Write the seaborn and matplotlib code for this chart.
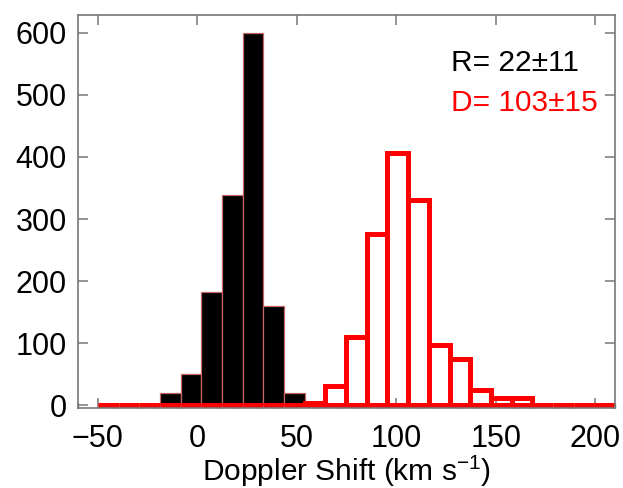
import numpy as np
import pandas as pd
import matplotlib
matplotlib.use("Agg")
import matplotlib.pyplot as plt
from matplotlib.ticker import MultipleLocator
import seaborn as sns

# ---- data ----
bin_edges = [round(-50 + 10.4 * i, 1) for i in range(26)]   # 25 bins, width 10.4 km/s
r_counts = [0, 0, 0, 19, 50, 183, 338, 600, 160, 20,
            0, 0, 0, 0, 0, 0, 0, 0, 0, 0, 0, 0, 0, 0, 0]
d_counts = [0, 0, 0, 0, 0, 0, 0, 0, 0, 0,
            4, 31, 110, 276, 407, 330, 97, 75, 24, 11, 11, 0, 0, 0, 0]
x_ticks = [-50, 0, 50, 100, 150, 200]
y_ticks = [0, 100, 200, 300, 400, 500, 600]
r_label = "R= 22±11"
d_label = "D= 103±15"
x_label = r"Doppler Shift (km s$^{-1}$)"

centers = [(a + b) / 2 for a, b in zip(bin_edges[:-1], bin_edges[1:])]
df = pd.DataFrame({"shift": centers, "r": r_counts, "d": d_counts})

sns.set_style("ticks")
plt.rcParams['font.family'] = ['Liberation Sans', 'DejaVu Sans']
plt.rcParams['mathtext.fontset'] = 'custom'
plt.rcParams['mathtext.rm'] = 'Liberation Sans'
plt.rcParams['mathtext.default'] = 'regular'
plt.rcParams['text.color'] = 'black'
plt.rcParams['axes.labelcolor'] = 'black'

fig = plt.figure(figsize=(6.23, 4.88), dpi=100)
ax = fig.add_axes([78/623, 1-407.5/488, (615-78)/623, (407.5-15)/488])

sns.histplot(data=df, x="shift", weights="r", bins=bin_edges, color='black',
             alpha=1, edgecolor='#c86464', linewidth=0.9, ax=ax)
sns.histplot(data=df, x="shift", weights="d", bins=bin_edges, fill=False,
             color='#ff0000', linewidth=3.6, ax=ax)

ax.set_xlim(-60, 210)
ax.set_ylim(-4, 629)
ax.set_xticks(x_ticks)
ax.set_yticks(y_ticks)
ax.xaxis.set_minor_locator(MultipleLocator(10))
ax.set_ylabel("")
ax.set_xlabel(x_label, fontsize=21.5, labelpad=0, color='black')

spine_c = '#777777'
for s in ax.spines.values():
    s.set_color(spine_c)
    s.set_linewidth(1.2)
    s.set_visible(True)
ax.tick_params(axis='both', which='major', direction='in', length=7,
               width=1.1, color=spine_c, labelsize=22, labelcolor='black')
ax.tick_params(axis='x', which='major', top=True, pad=12)
ax.tick_params(axis='y', which='major', right=True, pad=8)
ax.tick_params(axis='x', which='minor', direction='in', length=3.5,
               width=1.0, color=spine_c, top=False, bottom=True)

ax.text(0.6946, 0.858, r_label, transform=ax.transAxes, fontsize=21.5,
        color='black', va='baseline', ha='left')
ax.text(0.6946, 0.756, d_label, transform=ax.transAxes, fontsize=21.5,
        color='#ff0000', va='baseline', ha='left')

fig.savefig("out.png", dpi=100)
